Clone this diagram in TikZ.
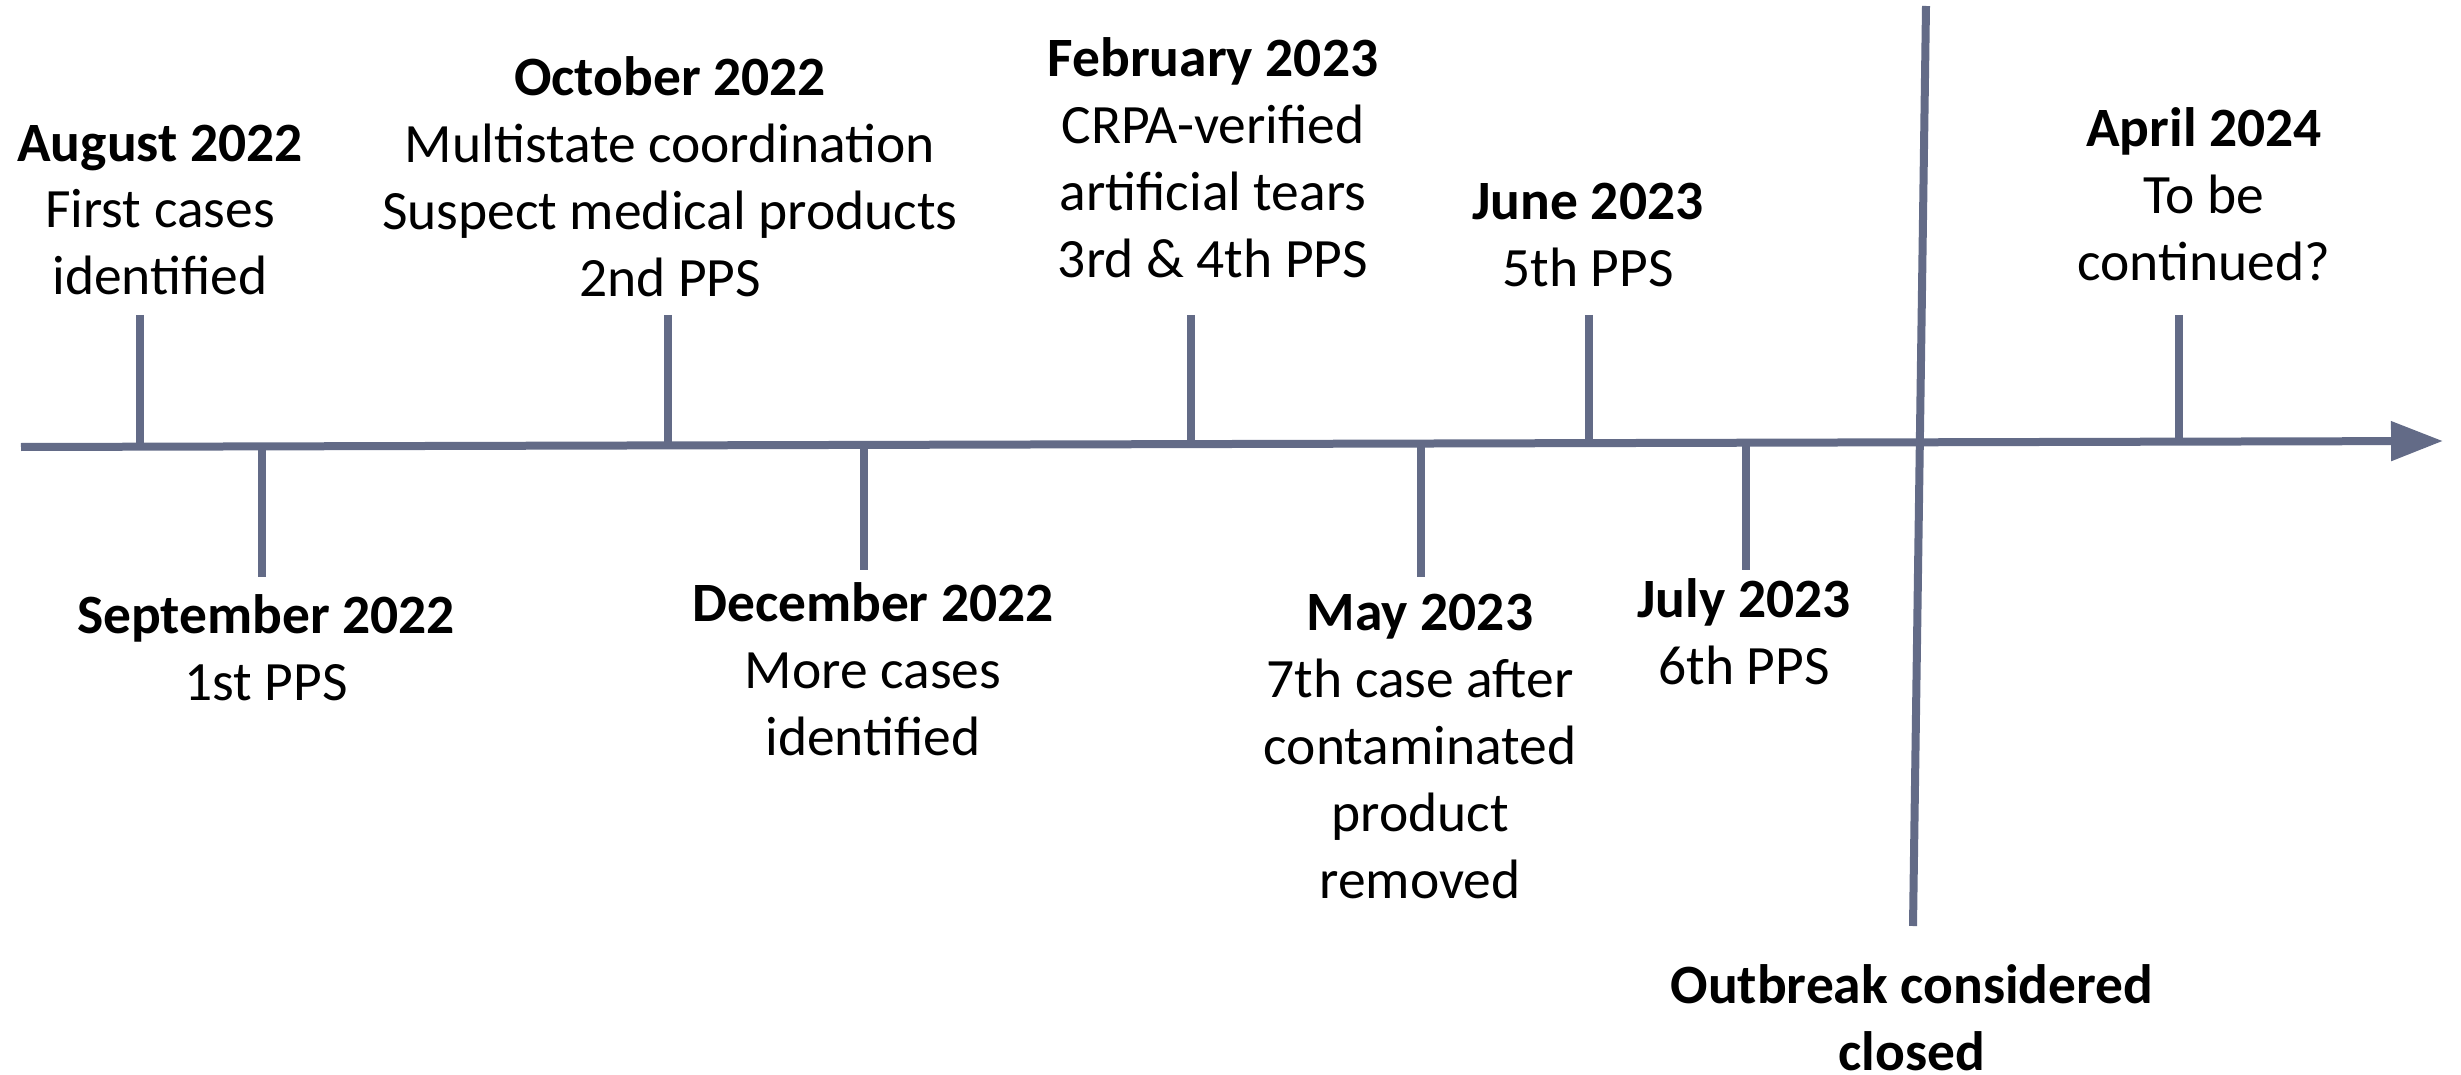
\documentclass[tikz,border=0pt]{standalone}
\usepackage{fontspec}
\setmainfont{Carlito}
\usetikzlibrary{arrows.meta}
\definecolor{tl}{RGB}{99,107,135}
\begin{document}
\begin{tikzpicture}[x=1pt,y=-1pt,
  tline/.style={draw=tl,line width=8pt,line cap=butt},
  lbl/.style={align=center,inner sep=0pt,anchor=base,font=\fontsize{55.5}{67}\selectfont}]
\useasboundingbox (0,0) rectangle (2461,1075);
% main axis
\coordinate (L) at (21,447);
\coordinate (R) at (2443,441);
\draw[tline,-{Triangle[length=52pt,width=38pt]},fill=tl] (L) -- (R);
% ticks
\coordinate (augA) at (140,315);  \coordinate (augB) at (140,446.7);
\coordinate (sepA) at (262,446.4);\coordinate (sepB) at (262,577);
\coordinate (octA) at (668,315);  \coordinate (octB) at (668,445.4);
\coordinate (decA) at (864,444.9);\coordinate (decB) at (864,570);
\coordinate (febA) at (1191,315); \coordinate (febB) at (1191,444.1);
\coordinate (mayA) at (1421,443.5);\coordinate (mayB) at (1421,577);
\coordinate (junA) at (1589,315); \coordinate (junB) at (1589,443.1);
\coordinate (julA) at (1746,442.7);\coordinate (julB) at (1746,570);
\coordinate (aprA) at (2179,315); \coordinate (aprB) at (2179,441.7);
\coordinate (outA) at (1926,6);   \coordinate (outB) at (1913,926);
\foreach \t in {aug,sep,oct,dec,feb,may,jun,jul,apr,out}
  \draw[tline] (\t A) -- (\t B);
% labels (anchor base = baseline of last line)
\node[lbl] (aug) at (160,295) {\textbf{August 2022}\\First cases\\identified};
\node[lbl] (sep) at (266,700) {\textbf{September 2022}\\1st PPS};
\node[lbl] (oct) at (670,297) {\textbf{October 2022}\\Multistate coordination\\Suspect medical products\\2nd PPS};
\node[lbl] (dec) at (873,755) {\textbf{December 2022}\\More cases\\identified};
\node[lbl] (feb) at (1213,278) {\textbf{February 2023}\\CRPA-verified\\artificial tears\\3rd \& 4th PPS};
\node[lbl] (may) at (1420,898) {\textbf{May 2023}\\7th case after\\contaminated\\product\\removed};
\node[lbl] (jun) at (1588,287) {\textbf{June 2023}\\5th PPS};
\node[lbl] (jul) at (1744,684) {\textbf{July 2023}\\6th PPS};
\node[lbl] (apr) at (2204,281) {\textbf{April 2024}\\To be\\continued?};
\node[lbl] (closed) at (1912,1070) {\textbf{Outbreak considered}\\\textbf{closed}};
\end{tikzpicture}
\end{document}
